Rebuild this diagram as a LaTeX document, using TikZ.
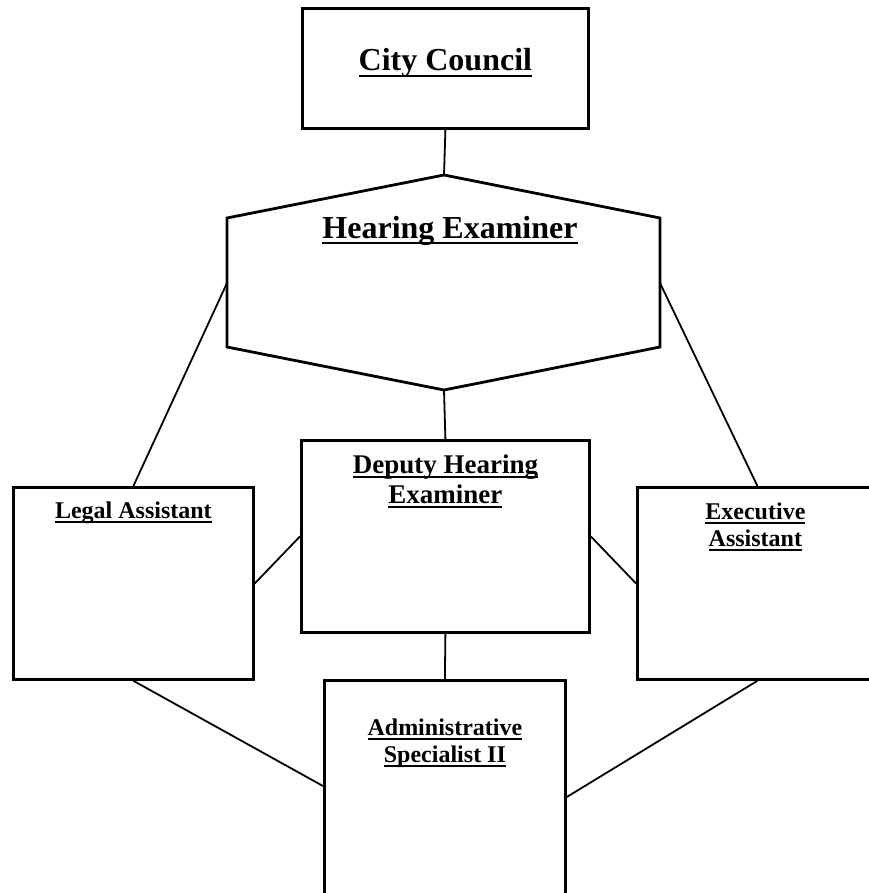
\documentclass[tikz,border=0pt]{standalone}
\usepackage{fontspec}
\setmainfont{Liberation Serif}
\newcommand{\undl}[1]{\setbox0\hbox{#1}\leavevmode\rlap{\rule[-0.2em]{\wd0}{0.08em}}\box0}
\begin{document}
\begin{tikzpicture}[x=1pt,y=-1pt,
        box/.style={draw,line width=2.8pt,inner sep=0pt,anchor=north west},
        link/.style={line width=1.8pt},
        head/.style={font=\bfseries\fontsize{32}{36}\selectfont,anchor=base},
        sub/.style={font=\bfseries\fontsize{24}{27}\selectfont,align=center,anchor=base}]
        \useasboundingbox (0,0) rectangle (868,893);
        % boxes
        \node[box,minimum width=286pt,minimum height=120pt] (council) at (301,7) {};
        \coordinate (hexT) at (444,175);
        \coordinate (hexTR) at (660,218);
        \coordinate (hexBR) at (660,347);
        \coordinate (hexB) at (444,390);
        \coordinate (hexBL) at (227,347);
        \coordinate (hexTL) at (227,218);
        \coordinate (hexL) at (227,283);
        \coordinate (hexR) at (660,283);
        \draw[line width=2.8pt] (hexT) -- (hexTR) -- (hexBR) -- (hexB) -- (hexBL) -- (hexTL) -- cycle;
        \node[box,minimum width=240pt,minimum height=192pt] (legal) at (12,486) {};
        \node[box,minimum width=288pt,minimum height=192pt] (deputy) at (300,439) {};
        \node[box,minimum width=240pt,minimum height=192pt] (exec) at (636,486) {};
        \node[box,minimum width=241pt,minimum height=230pt] (admin) at (323,679) {};
        % titles (base = last line)
        \node[head] (councilT) at ([yshift=-64pt]council.north) {\undl{City Council}};
        \node[head] (examinerT) at (450,238) {\undl{Hearing Examiner}};
        \node[sub] (legalT) at ([yshift=-32pt]legal.north) {\undl{Legal Assistant}};
        \node[sub,font=\bfseries\fontsize{27}{30}\selectfont] (deputyT) at ([yshift=-64pt]deputy.north) {\undl{Deputy Hearing}\\\undl{Examiner}};
        \node[sub] (execT) at ([xshift=-2pt,yshift=-60pt]exec.north) {\undl{Executive}\\\undl{Assistant}};
        \node[sub] (adminT) at ([yshift=-83pt]admin.north) {\undl{Administrative}\\\undl{Specialist II}};
        % lines
        \draw[link] (council.south) -- (hexT);
        \draw[link] (hexB) -- (deputy.north);
        \draw[link] (hexL) -- (legal.north);
        \draw[link] (hexR) -- (exec.north);
        \draw[link] (legal.east) -- (deputy.west);
        \draw[link] (deputy.east) -- (exec.west);
        \draw[link] (deputy.south) -- (admin.north);
        \draw[link] (legal.south) -- ([yshift=-107pt]admin.north west);
        \draw[link] (exec.south) -- ([yshift=-118pt]admin.north east);
      \end{tikzpicture}
\end{document}
